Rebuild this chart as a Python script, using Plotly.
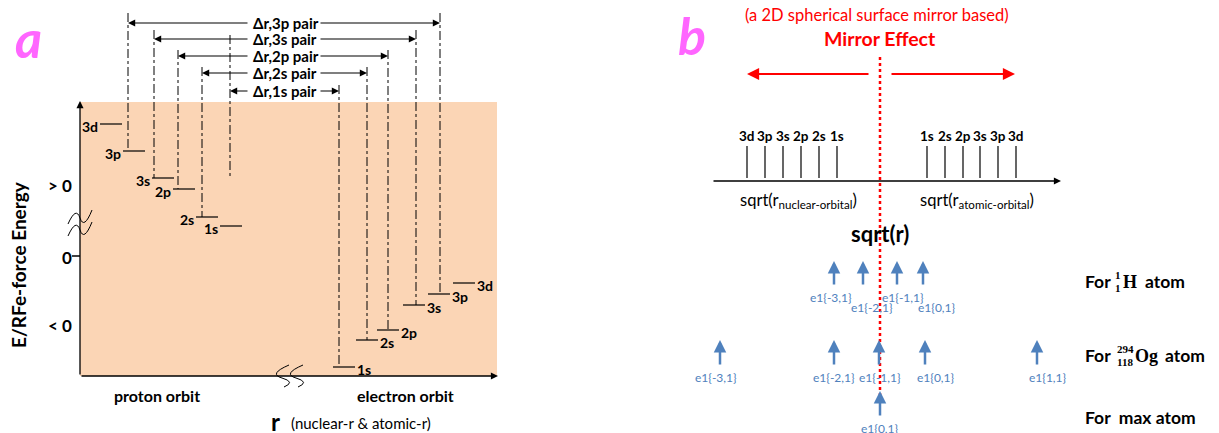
import plotly.graph_objects as go

# ---------------- data ----------------
orbitals = ["1s", "2s", "2p", "3s", "3p", "3d"]
# panel a: level bars (start r-pixel, energy-pixel)
proton_r = [220, 196, 173, 152, 123, 100]
proton_E = [226, 217, 189, 178, 151, 124]
electron_r = [333, 356, 377, 403, 428, 453]
electron_E = [367, 340, 330, 305, 294, 283]
level_len = 22

pair_names = ["Δr,1s pair", "Δr,2s pair", "Δr,2p pair", "Δr,3s pair", "Δr,3p pair"]
pair_left = [230, 202, 178, 154, 128]
pair_right = [339, 367, 388, 416, 440]
pair_y = [91, 73, 56, 39, 23]
pair_left_top = [35, 67, 50, 30, 13]
pair_left_bot = [177, 217, 189, 178, 151]
pair_right_top = [85, 67, 50, 30, 13]
pair_right_bot = [367, 340, 330, 305, 294]

ytick_labels = ["> 0", "0", "< 0"]
ytick_pos = [185, 257, 325]

# panel b
b_left_labels = ["3d", "3p", "3s", "2p", "2s", "1s"]
b_left_x = [747, 765, 783, 801, 819, 837]
b_right_labels = ["1s", "2s", "2p", "3s", "3p", "3d"]
b_right_x = [927, 945, 963, 980, 998, 1016]

H_labels = ["e1{-3,1}", "e1{-2,1}", "e1{-1,1}", "e1{0,1}"]
H_x = [834, 863, 897, 923]
H_label_x = [831, 872, 903, 937]
H_label_y = [297, 307, 297, 307]

Og_labels = ["e1{-3,1}", "e1{-2,1}", "e1{-1,1}", "e1{0,1}", "e1{1,1}"]
Og_x = [720, 834, 879, 925, 1037]
Og_label_x = [716, 834, 880, 936, 1048]

max_labels = ["e1{0,1}"]
max_x = [880]

FONT = "Lato"
SERIF = "Liberation Serif"
BLUE = "#4F81BD"
RED = "#FF0000"
OFF = 8  # page body margin

fig = go.Figure()
shapes = []
ann = []


def line(x0, y0, x1, y1, color="black", width=1, dash="solid"):
    shapes.append(dict(type="line", x0=x0, y0=y0, x1=x1, y1=y1, xref="x", yref="y",
                       line=dict(color=color, width=width, dash=dash)))


def text(x, y, s, size=12, bold=True, color="black", xanchor="center", family=FONT, angle=0):
    ann.append(dict(x=x, y=y, text=(f"<b>{s}</b>" if bold else s), showarrow=False,
                    xref="x", yref="y", xanchor=xanchor, yanchor="middle", textangle=angle,
                    borderpad=0, font=dict(size=size, color=color, family=family)))


def arrow(x0, y0, x1, y1, color="black", width=1.2, head=2, size=1.0):
    ann.append(dict(x=x1, y=y1, ax=x0, ay=y0, xref="x", yref="y", axref="x", ayref="y",
                    text="", showarrow=True, arrowhead=head, arrowsize=size,
                    arrowwidth=width, arrowcolor=color, standoff=0, startstandoff=0))


# ---------------- panel a ----------------
shapes.append(dict(type="rect", x0=80, y0=102, x1=497, y1=376, xref="x", yref="y",
                   fillcolor="#FBD5B5", line=dict(width=0), layer="below"))
# axes
arrow(80, 376, 80, 101, width=1.3, head=2, size=1.1)
arrow(80, 376, 498, 376, width=1.3, head=2, size=1.1)
line(72, 256, 80, 256, width=1.5)
for lab, yy in zip(ytick_labels, ytick_pos):
    text(73, yy, lab, size=17, xanchor="right")
text(18, 265, "E/RFe-force Energy", size=19, angle=-90)
text(28, 38, "<i>a</i>", size=52, color="#FF66FF", bold=True)

# break marks
for p in ["M 68,224 Q 76,206 80,218 T 92,210", "M 68,236 Q 76,218 80,230 T 92,222",
          "M 289,365 Q 268,374 282,378 T 284,387", "M 303,365 Q 282,374 296,378 T 298,387"]:
    shapes.append(dict(type="path", path=p, xref="x", yref="y",
                       line=dict(color="black", width=1)))

# levels
for o, r, e in zip(orbitals, proton_r, proton_E):
    line(r, e, r + level_len, e, width=1.2)
    text(r - 1, e + 2, o, size=14, xanchor="right")
for o, r, e in zip(orbitals, electron_r, electron_E):
    line(r, e, r + level_len, e, width=1.2)
    text(r + level_len + 1, e + 2, o, size=14, xanchor="left")

# pairs
for name, xl, xr, yy, lt, lb, rt, rb in zip(pair_names, pair_left, pair_right, pair_y,
                                             pair_left_top, pair_left_bot,
                                             pair_right_top, pair_right_bot):
    line(xl, lt, xl, lb, dash="dashdot", width=1)
    line(xr, rt, xr, rb, dash="dashdot", width=1)
    arrow(249, yy, xl, yy, width=1.2, head=2, size=1.2)
    arrow(319, yy, xr, yy, width=1.2, head=2, size=1.2)
    text(252, yy, name, size=15, xanchor="left")

text(157, 395, "proton orbit", size=16)
text(405, 395, "electron orbit", size=16)
text(275, 421, "r", size=24)
text(290, 423, "(nuclear-r &amp; atomic-r)", size=15, bold=False, xanchor="left")

# ---------------- panel b ----------------
text(692, 35, "<i>b</i>", size=52, color="#FF66FF")
text(877, 15, "(a 2D spherical surface mirror based)", size=16.5, bold=False, color=RED)
text(880, 38, "Mirror Effect", size=19.5, color=RED)
arrow(870, 74, 747, 74, color=RED, width=2.2, head=2, size=1.1)
arrow(890, 74, 1015, 74, color=RED, width=2.2, head=2, size=1.1)

arrow(712, 181, 1061, 181, width=1.3, head=2, size=1.1)
for lab, xx in zip(b_left_labels, b_left_x):
    line(xx, 146, xx, 178, width=1.2)
    text(xx, 136, lab, size=13.5)
for lab, xx in zip(b_right_labels, b_right_x):
    line(xx, 146, xx, 178, width=1.2)
    text(xx, 136, lab, size=13.5)
text(798, 200, "sqrt(r<sub>nuclear-orbital</sub>)", size=16.5, bold=False)
text(977, 200, "sqrt(r<sub>atomic-orbital</sub>)", size=16.5, bold=False)
text(880, 233, "sqrt(r)", size=22)

for lab, xx, lx, ly in zip(H_labels, H_x, H_label_x, H_label_y):
    arrow(xx, 286, xx, 261, color=BLUE, width=2.5, head=2, size=1.0)
    text(lx, ly, lab, size=12, bold=False, color=BLUE)
for lab, xx, lx in zip(Og_labels, Og_x, Og_label_x):
    arrow(xx, 366, xx, 340, color=BLUE, width=2.5, head=2, size=1.0)
    text(lx, 377, lab, size=12, bold=False, color=BLUE)
for lab, xx in zip(max_labels, max_x):
    arrow(xx, 417, xx, 391, color=BLUE, width=2.5, head=2, size=1.0)
    text(xx, 428, lab, size=12, bold=False, color=BLUE)

line(880, 57, 880, 395, color=RED, width=2.5, dash="dot")

text(1084, 281, "For", size=17.5, xanchor="left")
text(1118, 275, "1", size=11, family=SERIF)
text(1118, 288, "1", size=11, family=SERIF)
text(1122, 282, "H", size=18, family=SERIF, xanchor="left")
text(1144, 281, "atom", size=17.5, xanchor="left")

text(1084, 355, "For", size=17.5, xanchor="left")
text(1125, 349, "294", size=11, family=SERIF)
text(1125, 362, "118", size=11, family=SERIF)
text(1134, 356, "Og", size=18, family=SERIF, xanchor="left")
text(1164, 355, "atom", size=17.5, xanchor="left")

text(1084, 417, "For  max atom", size=17.5, xanchor="left")

fig.update_layout(
    width=1219, height=433,
    margin=dict(l=0, r=0, t=0, b=0),
    paper_bgcolor="white", plot_bgcolor="white",
    xaxis=dict(range=[OFF, 1219 + OFF], visible=False, fixedrange=True),
    yaxis=dict(range=[433 + OFF, OFF], visible=False, fixedrange=True),
    shapes=shapes, annotations=ann, showlegend=False,
)
fig.write_html("out.html")
